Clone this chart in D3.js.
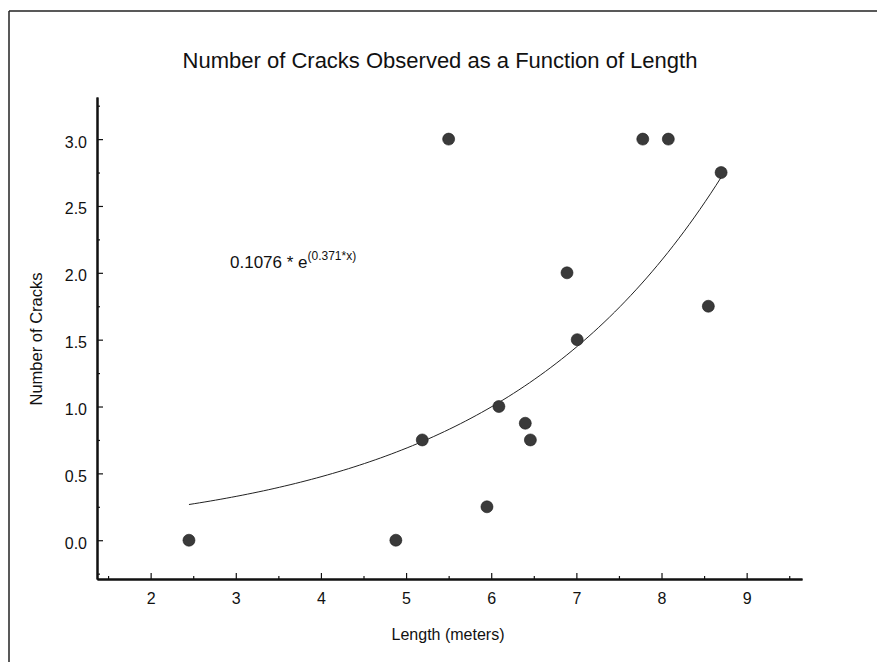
<!DOCTYPE html>
<html>
<head>
<meta charset="utf-8">
<script src="https://d3js.org/d3.v7.min.js"></script>
<style>
  body { margin: 0; background: #fff; }
  text { font-family: "Liberation Sans", Arial, sans-serif; fill: #111; }
  .axis .domain { stroke: #111; stroke-width: 2; }
  .axis line { stroke: #111; stroke-width: 1.2; }
  .frame { stroke: #222; stroke-width: 1.5; }
</style>
</head>
<body>
<svg id="chart" width="877" height="662"></svg>
<script>
  // observed cracks vs length
  const lengths = [2.45, 4.88, 5.19, 5.50, 5.95, 6.09, 6.40, 6.46, 6.89, 7.01, 7.78, 8.08, 8.55, 8.70];
  const cracks  = [0.00, 0.00, 0.75, 3.00, 0.25, 1.00, 0.875, 0.75, 2.00, 1.50, 3.00, 3.00, 1.75, 2.75];

  // fitted model y = a * e^(b*x)
  const fitA = 0.1076;
  const fitB = 0.371;

  const xTicks = [2, 3, 4, 5, 6, 7, 8, 9];
  const xMinor = [1.5, 2.5, 3.5, 4.5, 5.5, 6.5, 7.5, 8.5, 9.5];
  const yTicks = [0, 0.5, 1.0, 1.5, 2.0, 2.5, 3.0];
  const yMinor = [-0.25, 0.25, 0.75, 1.25, 1.75, 2.25, 2.75, 3.25];

  const svg = d3.select("svg#chart");
  const plot = { left: 97, right: 802, top: 97, bottom: 579 };

  const x = d3.scaleLinear().domain([1.37, 9.65]).range([plot.left, plot.right]);
  const y = d3.scaleLinear().domain([-0.29, 3.315]).range([plot.bottom, plot.top]);

  // outer frame (top and left edges only are visible)
  svg.append("line").attr("class", "frame")
    .attr("x1", 9).attr("y1", 11).attr("x2", 877).attr("y2", 11);
  svg.append("line").attr("class", "frame")
    .attr("x1", 9).attr("y1", 11).attr("x2", 9).attr("y2", 662);

  // minor ticks
  svg.append("g").attr("class", "axis")
    .attr("transform", "translate(0," + plot.bottom + ")")
    .call(d3.axisBottom(x).tickValues(xMinor).tickSizeInner(-3).tickSizeOuter(0).tickFormat(""));
  svg.append("g").attr("class", "axis")
    .attr("transform", "translate(" + plot.left + ",0)")
    .call(d3.axisLeft(y).tickValues(yMinor).tickSizeInner(-3).tickSizeOuter(0).tickFormat(""));

  // major axes
  const xAxis = svg.append("g").attr("class", "axis")
    .attr("transform", "translate(0," + plot.bottom + ")")
    .call(d3.axisBottom(x).tickValues(xTicks).tickSizeInner(-6).tickSizeOuter(0)
      .tickPadding(14).tickFormat(d3.format("d")));
  xAxis.selectAll("text").style("font-size", "16px").attr("fill", "#111");

  const yAxis = svg.append("g").attr("class", "axis")
    .attr("transform", "translate(" + plot.left + ",0)")
    .call(d3.axisLeft(y).tickValues(yTicks).tickSizeInner(-6).tickSizeOuter(0)
      .tickPadding(10).tickFormat(d3.format(".1f")));
  yAxis.selectAll("text").style("font-size", "16px").attr("fill", "#111").attr("dy", "0.5em");

  // fitted curve over the observed range
  const xs = d3.range(0, 101).map(i => d3.min(lengths) + i * (d3.max(lengths) - d3.min(lengths)) / 100);
  const line = d3.line().x(d => x(d)).y(d => y(fitA * Math.exp(fitB * d)));
  svg.append("path").datum(xs)
    .attr("d", line)
    .attr("fill", "none")
    .attr("stroke", "#222")
    .attr("stroke-width", 1);

  // points
  svg.append("g").selectAll("circle")
    .data(lengths.map((d, i) => [d, cracks[i]]))
    .join("circle")
    .attr("cx", d => x(d[0]))
    .attr("cy", d => y(d[1]))
    .attr("r", 6)
    .attr("fill", "#3a3a3a")
    .attr("stroke", "#1a1a1a")
    .attr("stroke-width", 0.6);

  // labels
  svg.append("text")
    .text("Number of Cracks Observed as a Function of Length")
    .attr("x", 440).attr("y", 68)
    .attr("text-anchor", "middle")
    .style("font-size", "22px");

  svg.append("text")
    .text("Length (meters)")
    .attr("x", 448).attr("y", 640)
    .attr("text-anchor", "middle")
    .style("font-size", "16px");

  svg.append("text")
    .text("Number of Cracks")
    .attr("transform", "translate(42,339) rotate(-90)")
    .attr("text-anchor", "middle")
    .style("font-size", "16.5px");

  const eq = svg.append("text")
    .attr("x", 230).attr("y", 268)
    .style("font-size", "17px");
  eq.append("tspan").text(fitA + " * e");
  eq.append("tspan").text("(" + fitB + "*x)")
    .attr("dy", -8)
    .style("font-size", "12px");
</script>
</body>
</html>
